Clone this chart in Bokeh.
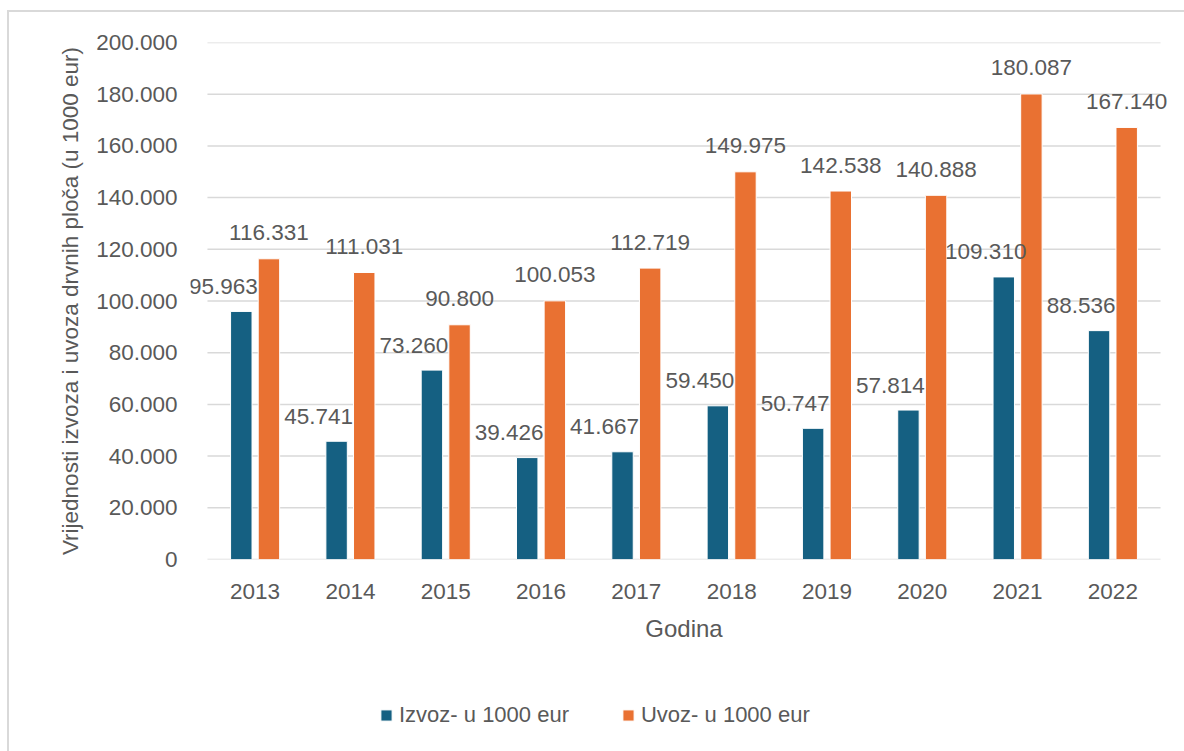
from bokeh.plotting import figure
from bokeh.layouts import column
from bokeh.models import (ColumnDataSource, FactorRange, Range1d, FixedTicker,
                          CustomJSTickFormatter, LabelSet, Legend, LegendItem)
from bokeh.core.properties import value
from bokeh.transform import dodge
from bokeh.embed import file_html
from bokeh.resources import INLINE

years = ["2013", "2014", "2015", "2016", "2017", "2018", "2019", "2020", "2021", "2022"]
izvoz = [95963, 45741, 73260, 39426, 41667, 59450, 50747, 57814, 109310, 88536]
uvoz = [116331, 111031, 90800, 100053, 112719, 149975, 142538, 140888, 180087, 167140]
y_ticks = [0, 20000, 40000, 60000, 80000, 100000, 120000, 140000, 160000, 180000, 200000]
series_names = ["Izvoz- u 1000 eur", "Uvoz- u 1000 eur"]

def fmt(v):
    return f"{v:,}".replace(",", ".")

src = ColumnDataSource(dict(
    year=years, izvoz=izvoz, uvoz=uvoz,
    izvoz_lbl=[fmt(v) for v in izvoz],
    uvoz_lbl=[fmt(v) for v in uvoz],
))
grid_src = ColumnDataSource(dict(y=y_ticks))

BLUE = "#156082"
ORANGE = "#E97132"
TXT = "#595959"
GRID = "#D9D9D9"
FONT = "Liberation Sans"

xr = FactorRange(*years, range_padding=0.178, range_padding_units="absolute")
yr = Range1d(0, 200000)

p = figure(width=1175, height=640, x_range=xr, y_range=yr,
           output_backend="svg", toolbar_location=None,
           min_border_left=181, min_border_right=7, min_border_top=30, min_border_bottom=93)
p.outline_line_color = None
p.background_fill_color = "white"
p.border_fill_color = "white"

# horizontal gridlines spanning exactly the category area
p.segment(x0=0, x1=len(years), y0="y", y1="y", source=grid_src,
          line_color=GRID, line_width=1.5, level="underlay")

bar_kw = dict(width=0.225, source=src, line_color="white", line_width=1)
p.vbar(x=dodge("year", -0.145, range=xr), top="izvoz", fill_color=BLUE, **bar_kw)
p.vbar(x=dodge("year", 0.145, range=xr), top="uvoz", fill_color=ORANGE, **bar_kw)

lbl_common = dict(text_font=value(FONT), text_font_size=value("22.5px"), text_color=TXT,
                  text_align="center", text_baseline="middle", source=src)
p.add_layout(LabelSet(x=dodge("year", -0.145, range=xr), y="izvoz", text="izvoz_lbl",
                      x_offset=-18, y_offset=25, **lbl_common))
p.add_layout(LabelSet(x=dodge("year", 0.145, range=xr), y="uvoz", text="uvoz_lbl",
                      x_offset=0, y_offset=26, **lbl_common))

p.yaxis.ticker = FixedTicker(ticks=y_ticks)
p.yaxis.formatter = CustomJSTickFormatter(code="return tick == 0 ? '0' : (tick/1000).toFixed(3);")
p.ygrid.grid_line_color = None
p.xgrid.grid_line_color = None

for ax in (p.xaxis, p.yaxis):
    ax.axis_line_color = None
    ax.major_tick_line_color = None
    ax.minor_tick_line_color = None
    ax.major_label_text_font = FONT
    ax.major_label_text_font_size = "22.5px"
    ax.major_label_text_color = TXT
    ax.axis_label_text_font = FONT
    ax.axis_label_text_font_style = "normal"
    ax.axis_label_text_color = TXT

p.yaxis.major_label_standoff = 7
p.yaxis.axis_label = "Vrijednosti izvoza i uvoza drvnih ploča (u 1000 eur)"
p.yaxis.axis_label_text_font_size = "22.5px"
p.yaxis.axis_label_standoff = 10

p.xaxis.major_label_standoff = 18
p.xaxis.axis_label = "Godina"
p.xaxis.axis_label_text_font_size = "24px"
p.xaxis.axis_label_standoff = 13

# legend strip below the chart (same series, same colours)
p2 = figure(width=1175, height=99, x_range=xr, y_range=yr,
            output_backend="svg", toolbar_location=None,
            x_axis_location=None, y_axis_location=None,
            min_border_left=0, min_border_right=0, min_border_top=0, min_border_bottom=0)
p2.outline_line_color = None
p2.xgrid.grid_line_color = None
p2.ygrid.grid_line_color = None
l1 = p2.vbar(x=dodge("year", -0.145, range=xr), top="izvoz", fill_color=BLUE, visible=False, **bar_kw)
l2 = p2.vbar(x=dodge("year", 0.145, range=xr), top="uvoz", fill_color=ORANGE, visible=False, **bar_kw)

legend = Legend(items=[LegendItem(label=series_names[0], renderers=[l1]),
                       LegendItem(label=series_names[1], renderers=[l2])],
                orientation="horizontal", location=(189, 23), spacing=52,
                label_standoff=6, glyph_width=14, glyph_height=14, padding=0, margin=0,
                border_line_color=None, background_fill_alpha=0, click_policy="none",
                label_text_font=FONT, label_text_font_size="22px", label_text_color=TXT)
p2.add_layout(legend, "center")

layout = column(p, p2, spacing=0,
                styles={"margin-left": "7px", "margin-top": "10px",
                        "border-left": "2px solid #D9D9D9",
                        "border-top": "2px solid #D9D9D9"})

open("out.html", "w").write(file_html(layout, INLINE))
